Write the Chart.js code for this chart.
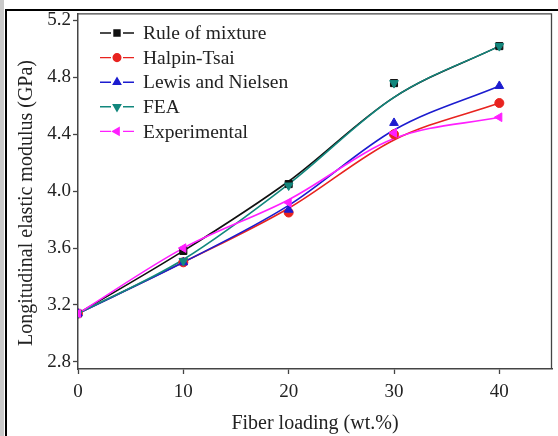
<!DOCTYPE html>
<html><head><meta charset="utf-8">
<script src="https://cdn.jsdelivr.net/npm/chart.js@4.4.0/dist/chart.umd.min.js"></script>
<style>
html,body{margin:0;padding:0;background:#fff;}
#wrap{position:relative;width:558px;height:436px;overflow:hidden;background:#fff;}
#strip{position:absolute;left:0;top:0;width:4px;height:436px;background:#c9c9c9;}
#frame{position:absolute;left:5px;top:9px;width:553px;height:440px;border-left:2px solid #000;border-top:2px solid #000;box-sizing:border-box;pointer-events:none;}
canvas{position:absolute;left:0;top:0;}
</style></head><body>
<div id="wrap"><div id="strip"></div><canvas id="c" width="558" height="436"></canvas><div id="frame"></div></div>
<script>
// ---- data ----
const fiberLoading = [0, 10, 20, 30, 40];
const xTicks = [0, 10, 20, 30, 40];
const yTicks = [2.8, 3.2, 3.6, 4.0, 4.4, 4.8, 5.2];
const seriesNames = ["Rule of mixture", "Halpin-Tsai", "Lewis and Nielsen", "FEA", "Experimental"];
const xTitle = "Fiber loading (wt.%)";
const yTitle = "Longitudinal elastic modulus (GPa)";
// marker values
const ruleOfMixture = [3.14, 3.58, 4.05, 4.76, 5.02];
const halpinTsai    = [3.14, 3.50, 3.85, 4.40, 4.62];
const lewisNielsen  = [3.14, 3.50, 3.87, 4.48, 4.74];
const fea           = [3.14, 3.51, 4.04, 4.76, 5.02];
const experimental  = [3.14, 3.60, 3.92, 4.41, 4.52];
// smoothed curve values
const ruleOfMixtureCurve = [3.14, 3.58, 4.07, 4.66, 5.02];
const halpinTsaiCurve    = [3.14, 3.50, 3.88, 4.36, 4.62];
const lewisNielsenCurve  = [3.14, 3.50, 3.90, 4.43, 4.74];
const feaCurve           = [3.14, 3.52, 4.05, 4.66, 5.02];
const experimentalCurve  = [3.14, 3.60, 3.94, 4.37, 4.52];

const colors = ["#111111", "#e8231f", "#1c1ccf", "#12877d", "#ff1fff"];
const styles = [
  {pointStyle: "rect", radius: 5, rotation: 0},
  {pointStyle: "circle", radius: 4.5, rotation: 0},
  {pointStyle: "triangle", radius: 5, rotation: 0},
  {pointStyle: "triangle", radius: 5, rotation: 180},
  {pointStyle: "triangle", radius: 5, rotation: -90}
];
const markerSets = [ruleOfMixture, halpinTsai, lewisNielsen, fea, experimental];
const curveSets = [ruleOfMixtureCurve, halpinTsaiCurve, lewisNielsenCurve, feaCurve, experimentalCurve];

const toXY = arr => arr.map((v, i) => ({x: fiberLoading[i], y: v}));
const datasets = [];
curveSets.forEach((arr, i) => {
  datasets.push({
    label: seriesNames[i] + " curve", data: toXY(arr), showLine: true,
    borderColor: colors[i], borderWidth: 1.6, pointRadius: 0,
    cubicInterpolationMode: "monotone", fill: false, order: 10 - i
  });
});
markerSets.forEach((arr, i) => {
  datasets.push({
    label: seriesNames[i], data: toXY(arr), showLine: false,
    backgroundColor: colors[i], borderColor: colors[i], borderWidth: 1,
    pointStyle: styles[i].pointStyle, pointRadius: styles[i].radius,
    pointRotation: styles[i].rotation, order: 5 - i
  });
});

const FONT = "'Liberation Serif', 'Times New Roman', serif";
const TXT = "#222";

const framePlugin = {
  id: "frameBox",
  afterDraw(chart) {
    const {ctx, chartArea: a} = chart;
    ctx.save();
    ctx.strokeStyle = "#444"; ctx.lineWidth = 1.3;
    ctx.beginPath();
    ctx.moveTo(a.left, a.top + 0.5); ctx.lineTo(a.right - 0.5, a.top + 0.5); ctx.lineTo(a.right - 0.5, a.bottom);
    ctx.stroke();
    // y-axis title
    ctx.save();
    ctx.translate(27, 203); ctx.rotate(-Math.PI / 2);
    ctx.fillStyle = TXT; ctx.font = "20px " + FONT; ctx.textAlign = "center"; ctx.textBaseline = "middle";
    ctx.fillText(yTitle, 0, 0);
    ctx.restore();
    // legend
    const x0 = 100, y0 = 33, dy = 24.6;
    seriesNames.forEach((name, i) => {
      const y = y0 + i * dy;
      ctx.strokeStyle = colors[i]; ctx.fillStyle = colors[i]; ctx.lineWidth = 1.4;
      ctx.beginPath(); ctx.moveTo(x0, y); ctx.lineTo(x0 + 11, y);
      ctx.moveTo(x0 + 23, y); ctx.lineTo(x0 + 34, y); ctx.stroke();
      Chart.helpers.drawPoint(ctx, {pointStyle: styles[i].pointStyle, radius: styles[i].radius * 0.85,
        rotation: styles[i].rotation, borderWidth: 1}, x0 + 17, y);
      ctx.fillStyle = TXT; ctx.font = "19.5px " + FONT; ctx.textBaseline = "middle"; ctx.textAlign = "left";
      ctx.fillText(name, x0 + 43, y + 1);
    });
    ctx.restore();
  }
};

new Chart(document.getElementById("c"), {
  type: "scatter",
  data: {datasets},
  options: {
    responsive: false, animation: false,
    layout: {padding: {left: 0, top: 13, right: 2, bottom: 0}},
    plugins: {legend: {display: false}, tooltip: {enabled: false}},
    scales: {
      x: {
        type: "linear", min: 0, max: 45,
        afterBuildTicks: s => { s.ticks = xTicks.map(v => ({value: v})); },
        afterFit: s => { s.height = 67; },
        ticks: {color: TXT, font: {family: FONT, size: 19}, padding: 7, callback: v => String(v)},
        grid: {drawOnChartArea: false, drawTicks: true, tickLength: 5, tickColor: "#444", tickWidth: 1.3},
        border: {display: true, color: "#444", width: 1.5},
        title: {display: true, text: xTitle, color: TXT, font: {family: FONT, size: 20}, padding: {top: 0, bottom: 0}}
      },
      y: {
        type: "linear", min: 2.75, max: 5.25,
        afterBuildTicks: s => { s.ticks = yTicks.map(v => ({value: v})); },
        afterFit: s => { s.width = 78; },
        ticks: {color: TXT, font: {family: FONT, size: 19}, padding: 2, callback: v => Number(v).toFixed(1)},
        grid: {drawOnChartArea: false, drawTicks: true, tickLength: 5, tickColor: "#444", tickWidth: 1.3},
        border: {display: true, color: "#444", width: 1.5},
        title: {display: false}
      }
    }
  },
  plugins: [framePlugin]
});
</script>
</body></html>
